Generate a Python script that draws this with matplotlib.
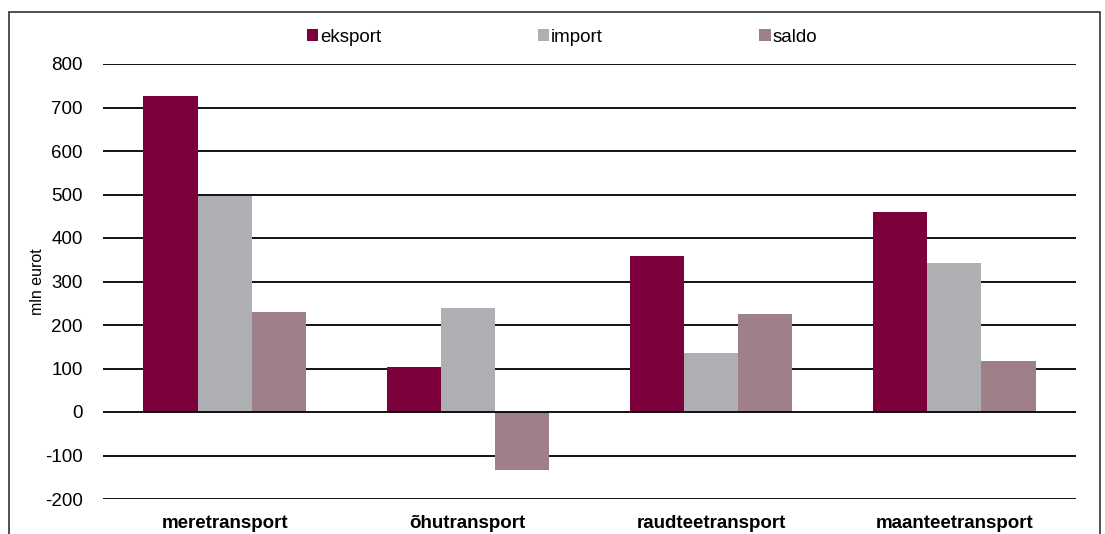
import matplotlib
matplotlib.use("Agg")
import matplotlib.pyplot as plt
import matplotlib.patches as mpatches
import numpy as np

categories = ["meretransport", "õhutransport", "raudteetransport", "maanteetransport"]
eksport = [726, 103, 359, 460]
import_ = [497, 239, 136, 343]
saldo = [230, -133, 225, 117]
series_names = ["eksport", "import", "saldo"]
y_ticks = [-200, -100, 0, 100, 200, 300, 400, 500, 600, 700, 800]
y_tick_labels = ["-200", "-100", "0", "100", "200", "300", "400", "500", "600", "700", "800"]

colors = ["#7C003C", "#AEAFB2", "#9F7F88"]

plt.rcParams["font.family"] = ["Liberation Sans", "DejaVu Sans"]

fig = plt.figure(figsize=(11.05, 5.34), dpi=100)
ax = fig.add_axes([103 / 1105, 1 - 499 / 534, (1076 - 103) / 1105, (499 - 64) / 534])

x = np.arange(len(categories))
w = 0.223
bars = []
for i, (vals, name) in enumerate(zip([eksport, import_, saldo], series_names)):
    b = ax.bar(x + (i - 1) * w, vals, width=w, color=colors[i], label=name, zorder=3)
    bars.append(b)

ax.set_xlim(-0.5, len(categories) - 0.5)
ax.set_ylim(-200, 800)
ax.set_yticks(y_ticks)
ax.set_yticklabels(y_tick_labels, fontsize=13.5)
ax.set_xticks(x)
ax.set_xticklabels(categories, fontsize=13.5, fontweight="bold")
ax.tick_params(axis="both", length=0)
ax.tick_params(axis="y", pad=14.5)
ax.tick_params(axis="x", pad=11.5)
for s in ax.spines.values():
    s.set_visible(False)
for t in y_ticks:
    ax.axhline(t, color="black", lw=1.3, zorder=4 if t == 0 else 1)
ax.set_ylabel("mln eurot", fontsize=11.5)
ax.yaxis.set_label_coords((45 - 103) / 973, 0.5)

leg = fig.legend(handles=bars, labels=series_names, loc="center", bbox_to_anchor=(562 / 1105, 1 - 37 / 534),
                 ncol=3, frameon=False, fontsize=13.5, handlelength=0.6, handleheight=0.6,
                 handletextpad=0.1, columnspacing=8.35)

frame = mpatches.Rectangle((9 / 1105, -0.1), (1100 - 9) / 1105, 1.1 - 12 / 534, transform=fig.transFigure,
                           fill=False, edgecolor="#333333", lw=1.2, clip_on=False)
fig.patches.append(frame)

fig.savefig("out.png", dpi=100)
